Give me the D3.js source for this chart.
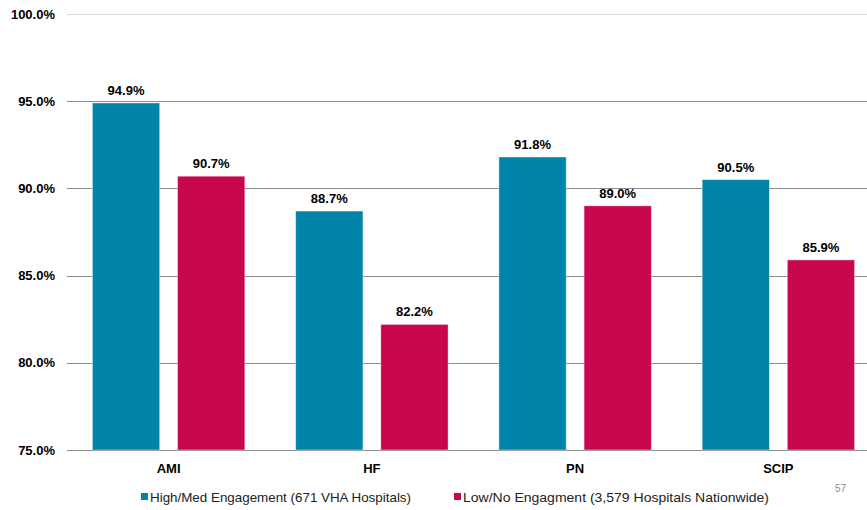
<!DOCTYPE html>
<html>
<head>
<meta charset="utf-8">
<script src="https://cdn.jsdelivr.net/npm/d3@7"></script>
<style>
  body { margin: 0; background: #fff; }
  text { font-family: "Liberation Sans", Arial, sans-serif; }
</style>
</head>
<body>
<script>
// data
const categories = ["AMI", "HF", "PN", "SCIP"];
const seriesNames = ["High/Med Engagement (671 VHA Hospitals)", "Low/No Engagment (3,579 Hospitals Nationwide)"];
const highMed = [94.9, 88.7, 91.8, 90.5];
const lowNo = [90.7, 82.2, 89.0, 85.9];
const yTicks = [75, 80, 85, 90, 95, 100];
const colors = ["#0084a9", "#c8074f"];

function drawChart() {
  var w = 867, h = 510;
  var top = 14, bottom = 450, left = 67;

  var svg = d3.select("body").append("svg")
    .attr("width", w).attr("height", h);

  var x0 = d3.scaleBand()
    .domain(categories)
    .range([left, 880])
    .paddingInner(0.25)
    .paddingOuter(0.125);

  var x1 = d3.scaleBand()
    .domain([0, 1])
    .range([0, x0.bandwidth()])
    .paddingInner(0.21);

  var y = d3.scaleLinear()
    .domain([75, 100])
    .range([bottom, top]);

  // gridlines
  svg.append("g").selectAll("line")
    .data(yTicks)
    .enter().append("line")
    .attr("x1", left).attr("x2", w)
    .attr("y1", d => Math.round(y(d)) + 0.5)
    .attr("y2", d => Math.round(y(d)) + 0.5)
    .attr("stroke", d => d === 100 ? "#d9d9d9" : "#8c8c8c")
    .attr("stroke-width", 1);

  // y axis labels
  var yAxis = d3.axisLeft(y)
    .tickValues(yTicks)
    .tickSize(0)
    .tickPadding(0)
    .tickFormat(d => d.toFixed(1) + "%");
  var ya = svg.append("g")
    .attr("transform", "translate(55,0)")
    .call(yAxis);
  ya.select(".domain").remove();
  ya.selectAll("text")
    .attr("font-family", "'Liberation Sans', Arial, sans-serif")
    .attr("font-size", "13px")
    .attr("font-weight", "bold")
    .attr("fill", "#000");

  var rows = categories.map((c, i) => ({ cat: c, vals: [highMed[i], lowNo[i]] }));

  var groups = svg.append("g").selectAll("g")
    .data(rows)
    .enter().append("g")
    .attr("transform", d => "translate(" + x0(d.cat) + ",0)");

  groups.selectAll("rect")
    .data(d => d.vals.map((v, k) => ({ k: k, v: v })))
    .enter().append("rect")
    .attr("x", d => x1(d.k))
    .attr("y", d => y(d.v))
    .attr("width", x1.bandwidth())
    .attr("height", d => bottom - y(d.v))
    .attr("fill", d => colors[d.k])
    .attr("stroke", "#ffffff")
    .attr("stroke-opacity", 0.5)
    .attr("stroke-width", 0.8);

  groups.selectAll("text")
    .data(d => d.vals.map((v, k) => ({ k: k, v: v })))
    .enter().append("text")
    .attr("x", d => x1(d.k) + x1.bandwidth() / 2)
    .attr("y", d => y(d.v) - 8)
    .attr("text-anchor", "middle")
    .attr("font-size", "13px")
    .attr("font-weight", "bold")
    .text(d => d.v.toFixed(1) + "%");

  // x axis labels
  var xAxis = d3.axisBottom(x0).tickSize(0).tickPadding(14);
  var xa = svg.append("g")
    .attr("transform", "translate(0," + bottom + ")")
    .call(xAxis);
  xa.select(".domain").remove();
  xa.selectAll("text")
    .attr("font-family", "'Liberation Sans', Arial, sans-serif")
    .attr("font-size", "13px")
    .attr("font-weight", "bold")
    .attr("fill", "#000");

  // legend
  var legX = [141, 454];
  var leg = svg.append("g").selectAll("g")
    .data(seriesNames)
    .enter().append("g")
    .attr("transform", (d, i) => "translate(" + legX[i] + ",493)");
  leg.append("rect")
    .attr("width", 7).attr("height", 7)
    .attr("fill", (d, i) => colors[i]);
  leg.append("text")
    .attr("x", 9).attr("y", 8.5)
    .attr("font-size", "13.5px")
    .attr("fill", "#222")
    .attr("textLength", (d, i) => i === 0 ? 261 : 306)
    .attr("lengthAdjust", "spacingAndGlyphs")
    .text(d => d);

  // page number
  svg.append("text")
    .attr("x", 846).attr("y", 492)
    .attr("text-anchor", "end")
    .attr("font-size", "10px")
    .attr("fill", "#8c8c8c")
    .text("57");
}

window.onload = function() {
  drawChart();
};
</script>
</body>
</html>
